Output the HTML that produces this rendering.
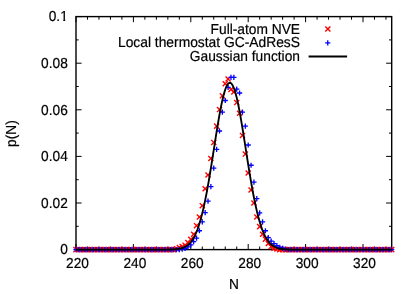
<!DOCTYPE html>
<html><head><meta charset="utf-8"><title>p(N)</title>
<style>
html,body{margin:0;padding:0;background:#fff;}
svg{display:block;will-change:transform;}
text{font-family:"Liberation Sans",sans-serif;font-size:14.5px;fill:#000;text-rendering:geometricPrecision;stroke:#000;stroke-width:0.2px;}
</style></head><body>
<svg width="415" height="294" viewBox="0 0 415 294">
<rect width="415" height="294" fill="#fff"/>
<path d="M76.00 249.60v-5.6M76.00 16.60v5.6M87.48 249.60v-3.1M87.48 16.60v3.1M98.96 249.60v-3.1M98.96 16.60v3.1M110.44 249.60v-3.1M110.44 16.60v3.1M121.92 249.60v-3.1M121.92 16.60v3.1M133.40 249.60v-5.6M133.40 16.60v5.6M144.88 249.60v-3.1M144.88 16.60v3.1M156.36 249.60v-3.1M156.36 16.60v3.1M167.84 249.60v-3.1M167.84 16.60v3.1M179.32 249.60v-3.1M179.32 16.60v3.1M190.80 249.60v-5.6M190.80 16.60v5.6M202.28 249.60v-3.1M202.28 16.60v3.1M213.76 249.60v-3.1M213.76 16.60v3.1M225.24 249.60v-3.1M225.24 16.60v3.1M236.72 249.60v-3.1M236.72 16.60v3.1M248.20 249.60v-5.6M248.20 16.60v5.6M259.68 249.60v-3.1M259.68 16.60v3.1M271.16 249.60v-3.1M271.16 16.60v3.1M282.64 249.60v-3.1M282.64 16.60v3.1M294.12 249.60v-3.1M294.12 16.60v3.1M305.60 249.60v-5.6M305.60 16.60v5.6M317.08 249.60v-3.1M317.08 16.60v3.1M328.56 249.60v-3.1M328.56 16.60v3.1M340.04 249.60v-3.1M340.04 16.60v3.1M351.52 249.60v-3.1M351.52 16.60v3.1M363.00 249.60v-5.6M363.00 16.60v5.6M374.48 249.60v-3.1M374.48 16.60v3.1M385.96 249.60v-3.1M385.96 16.60v3.1M76.00 249.60h5.6M391.70 249.60h-5.6M76.00 226.30h2.7M391.70 226.30h-2.7M76.00 203.00h5.6M391.70 203.00h-5.6M76.00 179.70h2.7M391.70 179.70h-2.7M76.00 156.40h5.6M391.70 156.40h-5.6M76.00 133.10h2.7M391.70 133.10h-2.7M76.00 109.80h5.6M391.70 109.80h-5.6M76.00 86.50h2.7M391.70 86.50h-2.7M76.00 63.20h5.6M391.70 63.20h-5.6M76.00 39.90h2.7M391.70 39.90h-2.7M76.00 16.60h5.6M391.70 16.60h-5.6" stroke="#000" stroke-width="1" fill="none"/>
<rect x="76.0" y="16.6" width="315.70" height="233.00" fill="none" stroke="#000" stroke-width="1.4"/>
<text transform="translate(67.80,254.35) scale(0.9448,1)" text-anchor="end">0</text>
<text transform="translate(67.80,207.75) scale(0.9448,1)" text-anchor="end">0.02</text>
<text transform="translate(67.80,161.15) scale(0.9448,1)" text-anchor="end">0.04</text>
<text transform="translate(67.80,114.55) scale(0.9448,1)" text-anchor="end">0.06</text>
<text transform="translate(67.80,67.95) scale(0.9448,1)" text-anchor="end">0.08</text>
<text transform="translate(67.80,21.35) scale(0.9448,1)" text-anchor="end">0.1</text>
<text transform="translate(77.50,268.40) scale(0.9448,1)" text-anchor="middle">220</text>
<text transform="translate(134.90,268.40) scale(0.9448,1)" text-anchor="middle">240</text>
<text transform="translate(192.30,268.40) scale(0.9448,1)" text-anchor="middle">260</text>
<text transform="translate(249.70,268.40) scale(0.9448,1)" text-anchor="middle">280</text>
<text transform="translate(307.10,268.40) scale(0.9448,1)" text-anchor="middle">300</text>
<text transform="translate(364.50,268.40) scale(0.9448,1)" text-anchor="middle">320</text>
<rect x="59.5" y="19.2" width="3.75" height="2.2" fill="#fff"/><rect x="65.2" y="19.2" width="3" height="2.2" fill="#fff"/>
<text transform="translate(234.00,288.60) scale(0.9448,1)" text-anchor="middle">N</text>
<text transform="translate(15.50,133.60) rotate(-90) scale(0.9448,1)" text-anchor="middle">p(N)</text>
<text transform="translate(300.00,33.60) scale(0.9480,1)" text-anchor="end">Full-atom NVE</text>
<text transform="translate(300.00,47.40) scale(0.9532,1)" text-anchor="end">Local thermostat GC-AdResS</text>
<text transform="translate(300.00,61.20) scale(0.9493,1)" text-anchor="end">Gaussian function</text>
<g stroke="#ff0000" stroke-width="1.4" fill="none">
<path d="M325.30 26.40L330.40 31.50M325.30 31.50L330.40 26.40"/>
<path d="M73.45 247.05L78.55 252.15M73.45 252.15L78.55 247.05"/>
<path d="M76.32 247.05L81.42 252.15M76.32 252.15L81.42 247.05"/>
<path d="M79.19 247.05L84.29 252.15M79.19 252.15L84.29 247.05"/>
<path d="M82.06 247.05L87.16 252.15M82.06 252.15L87.16 247.05"/>
<path d="M84.93 247.05L90.03 252.15M84.93 252.15L90.03 247.05"/>
<path d="M87.80 247.05L92.90 252.15M87.80 252.15L92.90 247.05"/>
<path d="M90.67 247.05L95.77 252.15M90.67 252.15L95.77 247.05"/>
<path d="M93.54 247.05L98.64 252.15M93.54 252.15L98.64 247.05"/>
<path d="M96.41 247.05L101.51 252.15M96.41 252.15L101.51 247.05"/>
<path d="M99.28 247.05L104.38 252.15M99.28 252.15L104.38 247.05"/>
<path d="M102.15 247.05L107.25 252.15M102.15 252.15L107.25 247.05"/>
<path d="M105.02 247.05L110.12 252.15M105.02 252.15L110.12 247.05"/>
<path d="M107.89 247.05L112.99 252.15M107.89 252.15L112.99 247.05"/>
<path d="M110.76 247.05L115.86 252.15M110.76 252.15L115.86 247.05"/>
<path d="M113.63 247.05L118.73 252.15M113.63 252.15L118.73 247.05"/>
<path d="M116.50 247.05L121.60 252.15M116.50 252.15L121.60 247.05"/>
<path d="M119.37 247.05L124.47 252.15M119.37 252.15L124.47 247.05"/>
<path d="M122.24 247.05L127.34 252.15M122.24 252.15L127.34 247.05"/>
<path d="M125.11 247.05L130.21 252.15M125.11 252.15L130.21 247.05"/>
<path d="M127.98 247.05L133.08 252.15M127.98 252.15L133.08 247.05"/>
<path d="M130.85 247.05L135.95 252.15M130.85 252.15L135.95 247.05"/>
<path d="M133.72 247.05L138.82 252.15M133.72 252.15L138.82 247.05"/>
<path d="M136.59 247.05L141.69 252.15M136.59 252.15L141.69 247.05"/>
<path d="M139.46 247.05L144.56 252.15M139.46 252.15L144.56 247.05"/>
<path d="M142.33 247.05L147.43 252.15M142.33 252.15L147.43 247.05"/>
<path d="M145.20 247.05L150.30 252.15M145.20 252.15L150.30 247.05"/>
<path d="M148.07 247.05L153.17 252.15M148.07 252.15L153.17 247.05"/>
<path d="M150.94 247.05L156.04 252.15M150.94 252.15L156.04 247.05"/>
<path d="M153.81 247.05L158.91 252.15M153.81 252.15L158.91 247.05"/>
<path d="M156.68 247.05L161.78 252.15M156.68 252.15L161.78 247.05"/>
<path d="M159.55 247.05L164.65 252.15M159.55 252.15L164.65 247.05"/>
<path d="M162.42 247.05L167.52 252.15M162.42 252.15L167.52 247.05"/>
<path d="M165.29 247.05L170.39 252.15M165.29 252.15L170.39 247.05"/>
<path d="M168.16 247.05L173.26 252.15M168.16 252.15L173.26 247.05"/>
<path d="M171.03 247.05L176.13 252.15M171.03 252.15L176.13 247.05"/>
<path d="M173.90 246.12L179.00 251.22M173.90 251.22L179.00 246.12"/>
<path d="M176.77 244.95L181.87 250.05M176.77 250.05L181.87 244.95"/>
<path d="M179.64 244.02L184.74 249.12M179.64 249.12L184.74 244.02"/>
<path d="M182.51 242.62L187.61 247.72M182.51 247.72L187.61 242.62"/>
<path d="M185.38 240.06L190.48 245.16M185.38 245.16L190.48 240.06"/>
<path d="M188.25 236.80L193.35 241.90M188.25 241.90L193.35 236.80"/>
<path d="M191.12 231.67L196.22 236.77M191.12 236.77L196.22 231.67"/>
<path d="M193.99 223.12L199.09 228.22M193.99 228.22L199.09 223.12"/>
<path d="M196.86 214.43L201.96 219.53M196.86 219.53L201.96 214.43"/>
<path d="M199.73 203.13L204.83 208.23M199.73 208.23L204.83 203.13"/>
<path d="M202.60 186.24L207.70 191.34M202.60 191.34L207.70 186.24"/>
<path d="M205.47 172.49L210.57 177.59M205.47 177.59L210.57 172.49"/>
<path d="M208.34 155.95L213.44 161.05M208.34 161.05L213.44 155.95"/>
<path d="M211.21 139.87L216.31 144.97M211.21 144.97L216.31 139.87"/>
<path d="M214.08 123.56L219.18 128.66M214.08 128.66L219.18 123.56"/>
<path d="M216.95 107.02L222.05 112.12M216.95 112.12L222.05 107.02"/>
<path d="M219.82 93.27L224.92 98.37M219.82 98.37L224.92 93.27"/>
<path d="M222.69 81.15L227.79 86.25M222.69 86.25L227.79 81.15"/>
<path d="M225.56 76.49L230.66 81.59M225.56 81.59L230.66 76.49"/>
<path d="M228.43 86.98L233.53 92.08M228.43 92.08L233.53 86.98"/>
<path d="M231.30 89.31L236.40 94.41M231.30 94.41L236.40 89.31"/>
<path d="M234.17 100.03L239.27 105.13M234.17 105.13L239.27 100.03"/>
<path d="M237.04 110.74L242.14 115.84M237.04 115.84L242.14 110.74"/>
<path d="M239.91 132.88L245.01 137.98M239.91 137.98L245.01 132.88"/>
<path d="M242.78 151.52L247.88 156.62M242.78 156.62L247.88 151.52"/>
<path d="M245.65 170.39L250.75 175.49M245.65 175.49L250.75 170.39"/>
<path d="M248.52 187.40L253.62 192.50M248.52 192.50L253.62 187.40"/>
<path d="M251.39 200.45L256.49 205.55M251.39 205.55L256.49 200.45"/>
<path d="M254.26 214.43L259.36 219.53M254.26 219.53L259.36 214.43"/>
<path d="M257.13 224.10L262.23 229.20M257.13 229.20L262.23 224.10"/>
<path d="M260.00 231.67L265.10 236.77M260.00 236.77L265.10 231.67"/>
<path d="M262.87 236.56L267.97 241.67M262.87 241.67L267.97 236.56"/>
<path d="M265.74 240.99L270.84 246.09M265.74 246.09L270.84 240.99"/>
<path d="M268.61 244.02L273.71 249.12M268.61 249.12L273.71 244.02"/>
<path d="M271.48 245.65L276.58 250.75M271.48 250.75L276.58 245.65"/>
<path d="M274.35 246.35L279.45 251.45M274.35 251.45L279.45 246.35"/>
<path d="M277.22 247.05L282.32 252.15M277.22 252.15L282.32 247.05"/>
<path d="M280.09 247.05L285.19 252.15M280.09 252.15L285.19 247.05"/>
<path d="M282.96 247.05L288.06 252.15M282.96 252.15L288.06 247.05"/>
<path d="M285.83 247.05L290.93 252.15M285.83 252.15L290.93 247.05"/>
<path d="M288.70 247.05L293.80 252.15M288.70 252.15L293.80 247.05"/>
<path d="M291.57 247.05L296.67 252.15M291.57 252.15L296.67 247.05"/>
<path d="M294.44 247.05L299.54 252.15M294.44 252.15L299.54 247.05"/>
<path d="M297.31 247.05L302.41 252.15M297.31 252.15L302.41 247.05"/>
<path d="M300.18 247.05L305.28 252.15M300.18 252.15L305.28 247.05"/>
<path d="M303.05 247.05L308.15 252.15M303.05 252.15L308.15 247.05"/>
<path d="M305.92 247.05L311.02 252.15M305.92 252.15L311.02 247.05"/>
<path d="M308.79 247.05L313.89 252.15M308.79 252.15L313.89 247.05"/>
<path d="M311.66 247.05L316.76 252.15M311.66 252.15L316.76 247.05"/>
<path d="M314.53 247.05L319.63 252.15M314.53 252.15L319.63 247.05"/>
<path d="M317.40 247.05L322.50 252.15M317.40 252.15L322.50 247.05"/>
<path d="M320.27 247.05L325.37 252.15M320.27 252.15L325.37 247.05"/>
<path d="M323.14 247.05L328.24 252.15M323.14 252.15L328.24 247.05"/>
<path d="M326.01 247.05L331.11 252.15M326.01 252.15L331.11 247.05"/>
<path d="M328.88 247.05L333.98 252.15M328.88 252.15L333.98 247.05"/>
<path d="M331.75 247.05L336.85 252.15M331.75 252.15L336.85 247.05"/>
<path d="M334.62 247.05L339.72 252.15M334.62 252.15L339.72 247.05"/>
<path d="M337.49 247.05L342.59 252.15M337.49 252.15L342.59 247.05"/>
<path d="M340.36 247.05L345.46 252.15M340.36 252.15L345.46 247.05"/>
<path d="M343.23 247.05L348.33 252.15M343.23 252.15L348.33 247.05"/>
<path d="M346.10 247.05L351.20 252.15M346.10 252.15L351.20 247.05"/>
<path d="M348.97 247.05L354.07 252.15M348.97 252.15L354.07 247.05"/>
<path d="M351.84 247.05L356.94 252.15M351.84 252.15L356.94 247.05"/>
<path d="M354.71 247.05L359.81 252.15M354.71 252.15L359.81 247.05"/>
<path d="M357.58 247.05L362.68 252.15M357.58 252.15L362.68 247.05"/>
<path d="M360.45 247.05L365.55 252.15M360.45 252.15L365.55 247.05"/>
<path d="M363.32 247.05L368.42 252.15M363.32 252.15L368.42 247.05"/>
<path d="M366.19 247.05L371.29 252.15M366.19 252.15L371.29 247.05"/>
<path d="M369.06 247.05L374.16 252.15M369.06 252.15L374.16 247.05"/>
<path d="M371.93 247.05L377.03 252.15M371.93 252.15L377.03 247.05"/>
<path d="M374.80 247.05L379.90 252.15M374.80 252.15L379.90 247.05"/>
<path d="M377.67 247.05L382.77 252.15M377.67 252.15L382.77 247.05"/>
<path d="M380.54 247.05L385.64 252.15M380.54 252.15L385.64 247.05"/>
<path d="M383.41 247.05L388.51 252.15M383.41 252.15L388.51 247.05"/>
<path d="M386.28 247.05L391.38 252.15M386.28 252.15L391.38 247.05"/>
<path d="M389.15 247.05L394.25 252.15M389.15 252.15L394.25 247.05"/>
</g>
<g stroke="#0000ff" stroke-width="1.3" fill="none">
<path d="M325.15 42.80H330.35M327.75 40.20V45.40"/>
<path d="M73.40 249.60H78.60M76.00 247.00V252.20"/>
<path d="M76.27 249.60H81.47M78.87 247.00V252.20"/>
<path d="M79.14 249.60H84.34M81.74 247.00V252.20"/>
<path d="M82.01 249.60H87.21M84.61 247.00V252.20"/>
<path d="M84.88 249.60H90.08M87.48 247.00V252.20"/>
<path d="M87.75 249.60H92.95M90.35 247.00V252.20"/>
<path d="M90.62 249.60H95.82M93.22 247.00V252.20"/>
<path d="M93.49 249.60H98.69M96.09 247.00V252.20"/>
<path d="M96.36 249.60H101.56M98.96 247.00V252.20"/>
<path d="M99.23 249.60H104.43M101.83 247.00V252.20"/>
<path d="M102.10 249.60H107.30M104.70 247.00V252.20"/>
<path d="M104.97 249.60H110.17M107.57 247.00V252.20"/>
<path d="M107.84 249.60H113.04M110.44 247.00V252.20"/>
<path d="M110.71 249.60H115.91M113.31 247.00V252.20"/>
<path d="M113.58 249.60H118.78M116.18 247.00V252.20"/>
<path d="M116.45 249.60H121.65M119.05 247.00V252.20"/>
<path d="M119.32 249.60H124.52M121.92 247.00V252.20"/>
<path d="M122.19 249.60H127.39M124.79 247.00V252.20"/>
<path d="M125.06 249.60H130.26M127.66 247.00V252.20"/>
<path d="M127.93 249.60H133.13M130.53 247.00V252.20"/>
<path d="M130.80 249.60H136.00M133.40 247.00V252.20"/>
<path d="M133.67 249.60H138.87M136.27 247.00V252.20"/>
<path d="M136.54 249.60H141.74M139.14 247.00V252.20"/>
<path d="M139.41 249.60H144.61M142.01 247.00V252.20"/>
<path d="M142.28 249.60H147.48M144.88 247.00V252.20"/>
<path d="M145.15 249.60H150.35M147.75 247.00V252.20"/>
<path d="M148.02 249.60H153.22M150.62 247.00V252.20"/>
<path d="M150.89 249.60H156.09M153.49 247.00V252.20"/>
<path d="M153.76 249.60H158.96M156.36 247.00V252.20"/>
<path d="M156.63 249.60H161.83M159.23 247.00V252.20"/>
<path d="M159.50 249.60H164.70M162.10 247.00V252.20"/>
<path d="M162.37 249.60H167.57M164.97 247.00V252.20"/>
<path d="M165.24 249.60H170.44M167.84 247.00V252.20"/>
<path d="M168.11 249.60H173.31M170.71 247.00V252.20"/>
<path d="M170.98 249.60H176.18M173.58 247.00V252.20"/>
<path d="M173.85 249.60H179.05M176.45 247.00V252.20"/>
<path d="M176.72 249.60H181.92M179.32 247.00V252.20"/>
<path d="M179.59 249.13H184.79M182.19 246.53V251.73"/>
<path d="M182.46 248.44H187.66M185.06 245.84V251.03"/>
<path d="M185.33 246.92H190.53M187.93 244.32V249.52"/>
<path d="M188.20 244.94H193.40M190.80 242.34V247.54"/>
<path d="M191.07 241.68H196.27M193.67 239.08V244.28"/>
<path d="M193.94 238.18H199.14M196.54 235.58V240.78"/>
<path d="M196.81 230.73H202.01M199.41 228.13V233.33"/>
<path d="M199.68 221.87H204.88M202.28 219.27V224.47"/>
<path d="M202.55 212.55H207.75M205.15 209.95V215.15"/>
<path d="M205.42 201.14H210.62M208.02 198.54V203.74"/>
<path d="M208.29 186.69H213.49M210.89 184.09V189.29"/>
<path d="M211.16 168.05H216.36M213.76 165.45V170.65"/>
<path d="M214.03 149.41H219.23M216.63 146.81V152.01"/>
<path d="M216.90 131.00H222.10M219.50 128.40V133.60"/>
<path d="M219.77 112.13H224.97M222.37 109.53V114.73"/>
<path d="M222.64 100.48H227.84M225.24 97.88V103.08"/>
<path d="M225.51 87.43H230.71M228.11 84.83V90.03"/>
<path d="M228.38 77.41H233.58M230.98 74.81V80.01"/>
<path d="M231.25 77.41H236.45M233.85 74.81V80.01"/>
<path d="M234.12 89.06H239.32M236.72 86.46V91.66"/>
<path d="M236.99 93.02H242.19M239.59 90.42V95.62"/>
<path d="M239.86 112.13H245.06M242.46 109.53V114.73"/>
<path d="M242.73 126.11H247.93M245.33 123.51V128.71"/>
<path d="M245.60 144.98H250.80M248.20 142.38V147.58"/>
<path d="M248.47 165.25H253.67M251.07 162.65V167.85"/>
<path d="M251.34 182.03H256.54M253.94 179.43V184.63"/>
<path d="M254.21 198.57H259.41M256.81 195.97V201.17"/>
<path d="M257.08 212.79H262.28M259.68 210.19V215.39"/>
<path d="M259.95 221.87H265.15M262.55 219.27V224.47"/>
<path d="M262.82 230.73H268.02M265.42 228.13V233.33"/>
<path d="M265.69 237.72H270.89M268.29 235.12V240.32"/>
<path d="M268.56 241.21H273.76M271.16 238.61V243.81"/>
<path d="M271.43 243.54H276.63M274.03 240.94V246.14"/>
<path d="M274.30 245.64H279.50M276.90 243.04V248.24"/>
<path d="M277.17 247.27H282.37M279.77 244.67V249.87"/>
<path d="M280.04 248.44H285.24M282.64 245.84V251.03"/>
<path d="M282.91 249.13H288.11M285.51 246.53V251.73"/>
<path d="M285.78 249.60H290.98M288.38 247.00V252.20"/>
<path d="M288.65 249.60H293.85M291.25 247.00V252.20"/>
<path d="M291.52 249.60H296.72M294.12 247.00V252.20"/>
<path d="M294.39 249.60H299.59M296.99 247.00V252.20"/>
<path d="M297.26 249.60H302.46M299.86 247.00V252.20"/>
<path d="M300.13 249.60H305.33M302.73 247.00V252.20"/>
<path d="M303.00 249.60H308.20M305.60 247.00V252.20"/>
<path d="M305.87 249.60H311.07M308.47 247.00V252.20"/>
<path d="M308.74 249.60H313.94M311.34 247.00V252.20"/>
<path d="M311.61 249.60H316.81M314.21 247.00V252.20"/>
<path d="M314.48 249.60H319.68M317.08 247.00V252.20"/>
<path d="M317.35 249.60H322.55M319.95 247.00V252.20"/>
<path d="M320.22 249.60H325.42M322.82 247.00V252.20"/>
<path d="M323.09 249.60H328.29M325.69 247.00V252.20"/>
<path d="M325.96 249.60H331.16M328.56 247.00V252.20"/>
<path d="M328.83 249.60H334.03M331.43 247.00V252.20"/>
<path d="M331.70 249.60H336.90M334.30 247.00V252.20"/>
<path d="M334.57 249.60H339.77M337.17 247.00V252.20"/>
<path d="M337.44 249.60H342.64M340.04 247.00V252.20"/>
<path d="M340.31 249.60H345.51M342.91 247.00V252.20"/>
<path d="M343.18 249.60H348.38M345.78 247.00V252.20"/>
<path d="M346.05 249.60H351.25M348.65 247.00V252.20"/>
<path d="M348.92 249.60H354.12M351.52 247.00V252.20"/>
<path d="M351.79 249.60H356.99M354.39 247.00V252.20"/>
<path d="M354.66 249.60H359.86M357.26 247.00V252.20"/>
<path d="M357.53 249.60H362.73M360.13 247.00V252.20"/>
<path d="M360.40 249.60H365.60M363.00 247.00V252.20"/>
<path d="M363.27 249.60H368.47M365.87 247.00V252.20"/>
<path d="M366.14 249.60H371.34M368.74 247.00V252.20"/>
<path d="M369.01 249.60H374.21M371.61 247.00V252.20"/>
<path d="M371.88 249.60H377.08M374.48 247.00V252.20"/>
<path d="M374.75 249.60H379.95M377.35 247.00V252.20"/>
<path d="M377.62 249.60H382.82M380.22 247.00V252.20"/>
<path d="M380.49 249.60H385.69M383.09 247.00V252.20"/>
<path d="M383.36 249.60H388.56M385.96 247.00V252.20"/>
<path d="M386.23 249.60H391.43M388.83 247.00V252.20"/>
<path d="M389.10 249.60H394.30M391.70 247.00V252.20"/>
</g>
<path d="M76.00 249.60 L76.72 249.60 L77.44 249.60 L78.15 249.60 L78.87 249.60 L79.59 249.60 L80.31 249.60 L81.02 249.60 L81.74 249.60 L82.46 249.60 L83.17 249.60 L83.89 249.60 L84.61 249.60 L85.33 249.60 L86.05 249.60 L86.76 249.60 L87.48 249.60 L88.20 249.60 L88.91 249.60 L89.63 249.60 L90.35 249.60 L91.07 249.60 L91.78 249.60 L92.50 249.60 L93.22 249.60 L93.94 249.60 L94.66 249.60 L95.37 249.60 L96.09 249.60 L96.81 249.60 L97.53 249.60 L98.24 249.60 L98.96 249.60 L99.68 249.60 L100.39 249.60 L101.11 249.60 L101.83 249.60 L102.55 249.60 L103.27 249.60 L103.98 249.60 L104.70 249.60 L105.42 249.60 L106.13 249.60 L106.85 249.60 L107.57 249.60 L108.29 249.60 L109.00 249.60 L109.72 249.60 L110.44 249.60 L111.16 249.60 L111.88 249.60 L112.59 249.60 L113.31 249.60 L114.03 249.60 L114.75 249.60 L115.46 249.60 L116.18 249.60 L116.90 249.60 L117.61 249.60 L118.33 249.60 L119.05 249.60 L119.77 249.60 L120.48 249.60 L121.20 249.60 L121.92 249.60 L122.64 249.60 L123.36 249.60 L124.07 249.60 L124.79 249.60 L125.51 249.60 L126.22 249.60 L126.94 249.60 L127.66 249.60 L128.38 249.60 L129.09 249.60 L129.81 249.60 L130.53 249.60 L131.25 249.60 L131.97 249.60 L132.68 249.60 L133.40 249.60 L134.12 249.60 L134.83 249.60 L135.55 249.60 L136.27 249.60 L136.99 249.60 L137.70 249.60 L138.42 249.60 L139.14 249.60 L139.86 249.60 L140.57 249.60 L141.29 249.60 L142.01 249.60 L142.73 249.60 L143.44 249.60 L144.16 249.60 L144.88 249.60 L145.60 249.60 L146.31 249.60 L147.03 249.60 L147.75 249.60 L148.47 249.60 L149.19 249.60 L149.90 249.60 L150.62 249.60 L151.34 249.60 L152.06 249.60 L152.77 249.60 L153.49 249.60 L154.21 249.60 L154.93 249.60 L155.64 249.60 L156.36 249.60 L157.08 249.60 L157.79 249.60 L158.51 249.60 L159.23 249.60 L159.95 249.60 L160.66 249.59 L161.38 249.59 L162.10 249.59 L162.82 249.59 L163.53 249.59 L164.25 249.58 L164.97 249.58 L165.69 249.57 L166.40 249.57 L167.12 249.56 L167.84 249.55 L168.56 249.54 L169.28 249.52 L169.99 249.51 L170.71 249.49 L171.43 249.47 L172.14 249.44 L172.86 249.41 L173.58 249.37 L174.30 249.33 L175.01 249.28 L175.73 249.22 L176.45 249.15 L177.17 249.07 L177.88 248.97 L178.60 248.87 L179.32 248.74 L180.04 248.60 L180.75 248.43 L181.47 248.25 L182.19 248.03 L182.91 247.79 L183.62 247.51 L184.34 247.20 L185.06 246.85 L185.78 246.46 L186.50 246.01 L187.21 245.51 L187.93 244.96 L188.65 244.34 L189.37 243.66 L190.08 242.90 L190.80 242.06 L191.52 241.14 L192.24 240.13 L192.95 239.02 L193.67 237.81 L194.39 236.49 L195.10 235.05 L195.82 233.50 L196.54 231.82 L197.26 230.01 L197.97 228.06 L198.69 225.97 L199.41 223.74 L200.13 221.35 L200.84 218.82 L201.56 216.13 L202.28 213.29 L203.00 210.30 L203.72 207.15 L204.43 203.85 L205.15 200.39 L205.87 196.80 L206.59 193.06 L207.30 189.18 L208.02 185.18 L208.74 181.06 L209.45 176.83 L210.17 172.50 L210.89 168.09 L211.61 163.61 L212.32 159.08 L213.04 154.50 L213.76 149.90 L214.48 145.30 L215.19 140.72 L215.91 136.17 L216.63 131.68 L217.35 127.26 L218.06 122.94 L218.78 118.74 L219.50 114.68 L220.22 110.78 L220.93 107.06 L221.65 103.54 L222.37 100.24 L223.09 97.19 L223.81 94.38 L224.52 91.85 L225.24 89.61 L225.96 87.67 L226.68 86.04 L227.39 84.73 L228.11 83.75 L228.83 83.11 L229.55 82.80 L230.26 82.83 L230.98 83.21 L231.70 83.92 L232.41 84.97 L233.13 86.34 L233.85 88.03 L234.57 90.04 L235.28 92.34 L236.00 94.92 L236.72 97.78 L237.44 100.88 L238.16 104.23 L238.87 107.79 L239.59 111.54 L240.31 115.48 L241.03 119.57 L241.74 123.79 L242.46 128.14 L243.18 132.57 L243.90 137.08 L244.61 141.63 L245.33 146.22 L246.05 150.82 L246.76 155.42 L247.48 159.99 L248.20 164.51 L248.92 168.98 L249.63 173.38 L250.35 177.68 L251.07 181.89 L251.79 185.99 L252.50 189.97 L253.22 193.81 L253.94 197.53 L254.66 201.10 L255.38 204.52 L256.09 207.79 L256.81 210.91 L257.53 213.87 L258.25 216.68 L258.96 219.34 L259.68 221.84 L260.40 224.19 L261.12 226.40 L261.83 228.46 L262.55 230.38 L263.27 232.16 L263.99 233.82 L264.70 235.35 L265.42 236.76 L266.14 238.06 L266.86 239.25 L267.57 240.34 L268.29 241.33 L269.01 242.24 L269.73 243.06 L270.44 243.80 L271.16 244.47 L271.88 245.08 L272.60 245.62 L273.31 246.10 L274.03 246.54 L274.75 246.92 L275.46 247.27 L276.18 247.57 L276.90 247.84 L277.62 248.08 L278.33 248.29 L279.05 248.47 L279.77 248.63 L280.49 248.77 L281.20 248.89 L281.92 248.99 L282.64 249.09 L283.36 249.16 L284.07 249.23 L284.79 249.29 L285.51 249.34 L286.23 249.38 L286.94 249.42 L287.66 249.45 L288.38 249.47 L289.10 249.49 L289.81 249.51 L290.53 249.53 L291.25 249.54 L291.97 249.55 L292.68 249.56 L293.40 249.57 L294.12 249.57 L294.84 249.58 L295.56 249.58 L296.27 249.59 L296.99 249.59 L297.71 249.59 L298.43 249.59 L299.14 249.59 L299.86 249.60 L300.58 249.60 L301.30 249.60 L302.01 249.60 L302.73 249.60 L303.45 249.60 L304.16 249.60 L304.88 249.60 L305.60 249.60 L306.32 249.60 L307.03 249.60 L307.75 249.60 L308.47 249.60 L309.19 249.60 L309.90 249.60 L310.62 249.60 L311.34 249.60 L312.06 249.60 L312.77 249.60 L313.49 249.60 L314.21 249.60 L314.93 249.60 L315.64 249.60 L316.36 249.60 L317.08 249.60 L317.80 249.60 L318.51 249.60 L319.23 249.60 L319.95 249.60 L320.67 249.60 L321.38 249.60 L322.10 249.60 L322.82 249.60 L323.54 249.60 L324.25 249.60 L324.97 249.60 L325.69 249.60 L326.41 249.60 L327.12 249.60 L327.84 249.60 L328.56 249.60 L329.28 249.60 L330.00 249.60 L330.71 249.60 L331.43 249.60 L332.15 249.60 L332.86 249.60 L333.58 249.60 L334.30 249.60 L335.02 249.60 L335.74 249.60 L336.45 249.60 L337.17 249.60 L337.89 249.60 L338.61 249.60 L339.32 249.60 L340.04 249.60 L340.76 249.60 L341.48 249.60 L342.19 249.60 L342.91 249.60 L343.63 249.60 L344.35 249.60 L345.06 249.60 L345.78 249.60 L346.50 249.60 L347.21 249.60 L347.93 249.60 L348.65 249.60 L349.37 249.60 L350.08 249.60 L350.80 249.60 L351.52 249.60 L352.24 249.60 L352.95 249.60 L353.67 249.60 L354.39 249.60 L355.11 249.60 L355.82 249.60 L356.54 249.60 L357.26 249.60 L357.98 249.60 L358.69 249.60 L359.41 249.60 L360.13 249.60 L360.85 249.60 L361.56 249.60 L362.28 249.60 L363.00 249.60 L363.72 249.60 L364.44 249.60 L365.15 249.60 L365.87 249.60 L366.59 249.60 L367.31 249.60 L368.02 249.60 L368.74 249.60 L369.46 249.60 L370.18 249.60 L370.89 249.60 L371.61 249.60 L372.33 249.60 L373.04 249.60 L373.76 249.60 L374.48 249.60 L375.20 249.60 L375.92 249.60 L376.63 249.60 L377.35 249.60 L378.07 249.60 L378.78 249.60 L379.50 249.60 L380.22 249.60 L380.94 249.60 L381.65 249.60 L382.37 249.60 L383.09 249.60 L383.81 249.60 L384.52 249.60 L385.24 249.60 L385.96 249.60 L386.68 249.60 L387.39 249.60 L388.11 249.60 L388.83 249.60 L389.55 249.60 L390.26 249.60 L390.98 249.60 L391.70 249.60" stroke="#000" stroke-width="1.85" fill="none" stroke-linejoin="round"/>
<path d="M308.6 56.5H347.1" stroke="#000" stroke-width="2" fill="none"/>
</svg></body></html>
